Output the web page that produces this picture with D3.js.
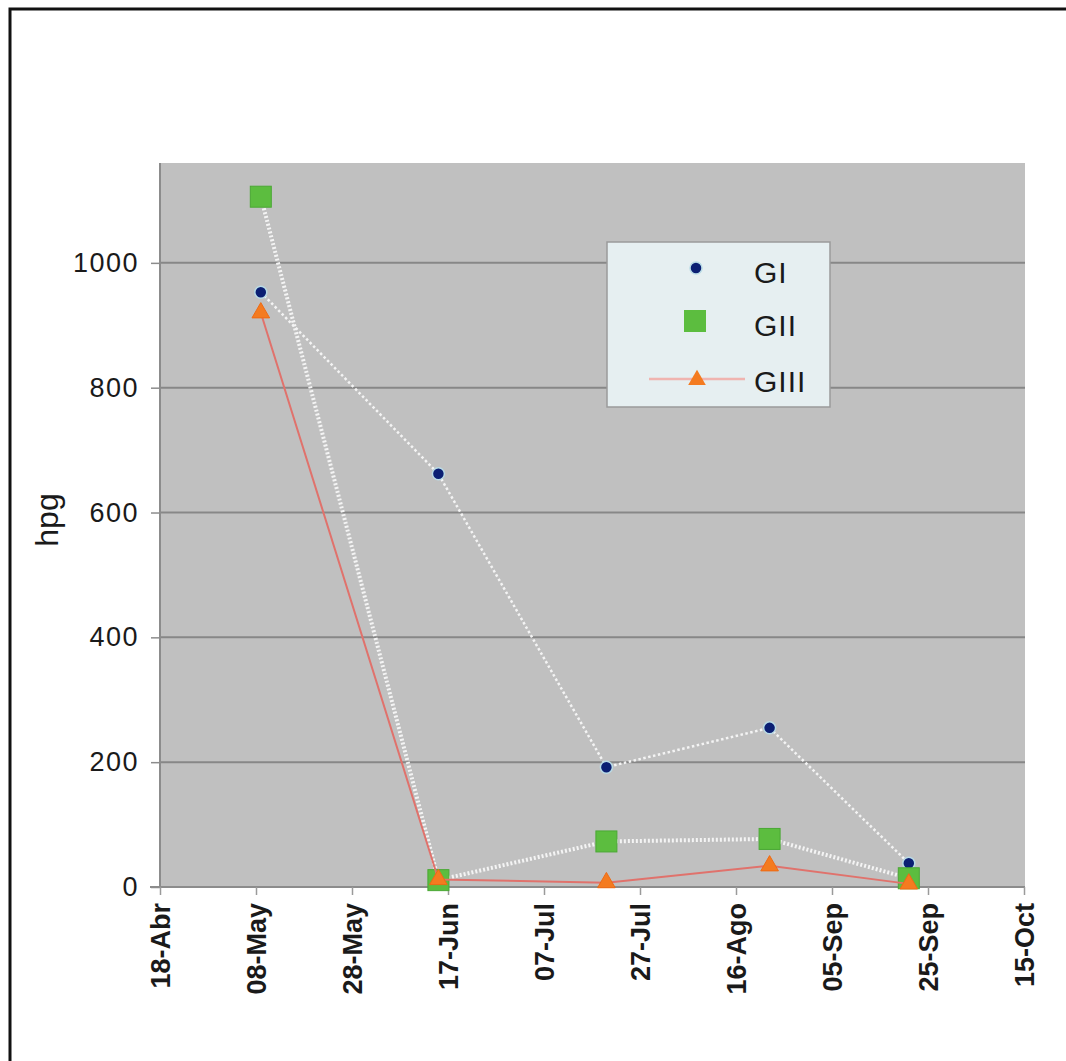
<!DOCTYPE html>
<html>
<head>
<meta charset="utf-8">
<script src="https://cdn.jsdelivr.net/npm/d3@7"></script>
<style>
  html, body { margin: 0; padding: 0; background: #ffffff; }
  svg { display: block; }
  text { font-family: "Liberation Sans", Arial, Helvetica, sans-serif; fill: #1a1a1a; }
</style>
</head>
<body>
<svg id="chart" width="1066" height="1061"></svg>
<script>
// Sampling dates and hpg counts per group
const sampleDates = ["2010-05-09", "2010-06-15", "2010-07-20", "2010-08-23", "2010-09-21"];
const giValues   = [953, 662, 192, 255, 38];
const giiValues  = [1106, 11, 73, 77, 14];
const giiiValues = [920, 12, 7, 34, 5];

// Axis ticks
const xTickDates  = ["2010-04-18", "2010-05-08", "2010-05-28", "2010-06-17", "2010-07-07",
                     "2010-07-27", "2010-08-16", "2010-09-05", "2010-09-25", "2010-10-15"];
const xTickLabels = ["18-Abr", "08-May", "28-May", "17-Jun", "07-Jul",
                     "27-Jul", "16-Ago", "05-Sep", "25-Sep", "15-Oct"];
const yTicks = [0, 200, 400, 600, 800, 1000];
const yMax = 1160;

const parse = d3.timeParse("%Y-%m-%d");
const dates = sampleDates.map(parse);
const tickDates = xTickDates.map(parse);

const svg = d3.select("#chart");

// Outer frame (top and left edges)
svg.append("path")
  .attr("d", "M10,1061V9H1066")
  .attr("fill", "none")
  .attr("stroke", "#111")
  .attr("stroke-width", 3);

const plot = { left: 160, right: 1025, top: 163, bottom: 887 };

const x = d3.scaleTime()
  .domain([tickDates[0], tickDates[tickDates.length - 1]])
  .range([plot.left, 1024]);
const y = d3.scaleLinear()
  .domain([0, yMax])
  .range([plot.bottom, plot.top]);

// Plot background
svg.append("rect")
  .attr("x", plot.left).attr("y", plot.top)
  .attr("width", plot.right - plot.left)
  .attr("height", plot.bottom - plot.top)
  .attr("fill", "#c0c0c0");

// Horizontal gridlines
svg.append("g")
  .selectAll("line")
  .data(yTicks.filter(d => d > 0))
  .join("line")
  .attr("x1", plot.left).attr("x2", plot.right)
  .attr("y1", d => y(d)).attr("y2", d => y(d))
  .attr("stroke", "#878787")
  .attr("stroke-width", 2);

// Y axis
const yAxis = svg.append("g")
  .attr("transform", `translate(${plot.left},0)`)
  .call(d3.axisLeft(y).tickValues(yTicks).tickSize(9).tickPadding(12).tickFormat(d3.format("d")));
yAxis.select(".domain").attr("stroke", "#8c8c8c").attr("stroke-width", 2)
  .attr("d", `M0,${plot.bottom}V${plot.top}`);
yAxis.selectAll(".tick line").attr("stroke", "#8c8c8c").attr("stroke-width", 1.5);
yAxis.selectAll(".tick text")
  .attr("font-size", 27)
  .attr("letter-spacing", 1.5)
  .attr("fill", "#222")
  .style("font-family", "'Liberation Sans', Arial, sans-serif");

// X axis
const xAxis = svg.append("g")
  .attr("transform", `translate(0,${plot.bottom})`)
  .call(d3.axisBottom(x).tickValues(tickDates).tickSize(8)
    .tickFormat((d, i) => xTickLabels[i]));
xAxis.select(".domain").attr("stroke", "#8c8c8c").attr("stroke-width", 2)
  .attr("d", `M${plot.left - 10},0H${plot.right}`);
xAxis.selectAll(".tick line").attr("stroke", "#9a9a9a").attr("stroke-width", 1.5);
xAxis.selectAll(".tick text")
  .attr("font-size", 27)
  .attr("font-weight", "bold")
  .attr("fill", "#111")
  .attr("text-anchor", "end")
  .attr("transform", "rotate(-90)")
  .attr("x", -16)
  .attr("y", 0)
  .attr("dy", "0.36em")
  .style("font-family", "'Liberation Sans', Arial, sans-serif");

// Y axis title
svg.append("text")
  .attr("transform", "translate(58,520) rotate(-90)")
  .attr("text-anchor", "middle")
  .attr("font-size", 32)
  .attr("fill", "#111")
  .text("hpg");

const line = d3.line().x(d => x(d.date)).y(d => y(d.value));
const series = (vals) => vals.map((v, i) => ({ date: dates[i], value: v }));

// GI: dotted white line with navy dots
const gi = series(giValues);
svg.append("path").datum(gi)
  .attr("d", line).attr("fill", "none")
  .attr("stroke", "#f4f4f4").attr("stroke-width", 2.5)
  .attr("stroke-dasharray", "2.5 2.5");
svg.append("g").selectAll("circle").data(gi).join("circle")
  .attr("cx", d => x(d.date)).attr("cy", d => y(d.value))
  .attr("r", 6)
  .attr("fill", "#0b1f73")
  .attr("stroke", "#b9dbe6").attr("stroke-width", 1.5);

// GII: wide dotted white line with green squares
const gii = series(giiValues);
svg.append("path").datum(gii)
  .attr("d", line).attr("fill", "none")
  .attr("stroke", "#f4f4f4").attr("stroke-width", 4)
  .attr("stroke-dasharray", "2 2");
svg.append("g").selectAll("rect").data(gii).join("rect")
  .attr("x", d => x(d.date) - 10.5).attr("y", d => y(d.value) - 10.5)
  .attr("width", 21).attr("height", 21)
  .attr("fill", "#5cbd3f")
  .attr("stroke", "#4aa834").attr("stroke-width", 1);

// GIII: red line with orange triangles
const giii = series(giiiValues);
const tri = d3.symbol().type(d3.symbolTriangle).size(135);
svg.append("path").datum(giii)
  .attr("d", line).attr("fill", "none")
  .attr("stroke", "#e0726c").attr("stroke-width", 2);
svg.append("g").selectAll("path").data(giii).join("path")
  .attr("d", tri)
  .attr("transform", d => `translate(${x(d.date)},${y(d.value)})`)
  .attr("fill", "#f47b20")
  .attr("stroke", "#ee6a14").attr("stroke-width", 1);

// Legend
const legend = svg.append("g");
legend.append("rect")
  .attr("x", 607).attr("y", 242).attr("width", 223).attr("height", 165)
  .attr("fill", "#e6eff1")
  .attr("stroke", "#9a9a9a").attr("stroke-width", 1.5);
legend.append("circle")
  .attr("cx", 696).attr("cy", 268).attr("r", 6)
  .attr("fill", "#0b1f73").attr("stroke", "#b9dbe6").attr("stroke-width", 1.5);
legend.append("rect")
  .attr("x", 684).attr("y", 310).attr("width", 22).attr("height", 22)
  .attr("fill", "#5cbd3f");
legend.append("line")
  .attr("x1", 649).attr("x2", 745).attr("y1", 379).attr("y2", 379)
  .attr("stroke", "#f0b4b0").attr("stroke-width", 2.5);
legend.append("path")
  .attr("d", tri)
  .attr("transform", "translate(697,380)")
  .attr("fill", "#f47b20");
const names = ["GI", "GII", "GIII"];
const baselines = [283, 336, 392];
legend.selectAll("text.name").data(names).join("text")
  .attr("class", "name")
  .attr("x", 754).attr("y", (d, i) => baselines[i])
  .attr("font-size", 30)
  .attr("letter-spacing", 1)
  .attr("fill", "#111")
  .text(d => d);
</script>
</body>
</html>
